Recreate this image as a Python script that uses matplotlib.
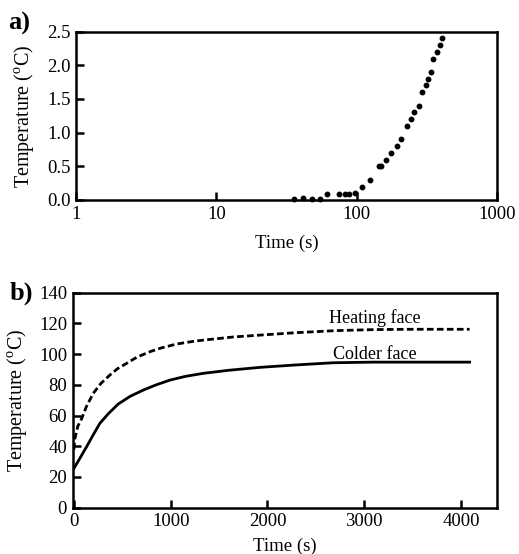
import matplotlib
matplotlib.use("Agg")
import matplotlib.pyplot as plt
from matplotlib.ticker import FixedLocator, NullLocator

plt.rcParams['font.family'] = ['Liberation Serif', 'DejaVu Serif']
plt.rcParams['mathtext.fontset'] = 'custom'
plt.rcParams['mathtext.rm'] = 'Liberation Serif'
plt.rcParams['font.size'] = 13.5

# panel a: early heating, log time axis
time_a = [35.8, 41.5, 47.9, 55.2, 62, 75.4, 83.2, 88.8, 98, 110, 124.7,
          143.8, 149.5, 161.6, 175.3, 193.5, 207.8, 229, 243.6, 258.7,
          279.5, 293.6, 311.9, 325.8, 338.6, 354, 376, 394.6, 410]
temp_a = [0.01, 0.025, 0.02, 0.01, 0.09, 0.09, 0.09, 0.09, 0.1, 0.2, 0.3,
          0.5, 0.5, 0.6, 0.7, 0.8, 0.9, 1.1, 1.2, 1.3,
          1.4, 1.6, 1.7, 1.8, 1.9, 2.1, 2.2, 2.3, 2.4]

# panel b: face temperatures
time_hot = [0, 10, 40, 80, 130, 200, 280, 372, 450, 545, 650, 786, 900,
            1062, 1250, 1406, 1650, 1924, 2300, 2700, 3100, 3500, 4090]
temp_hot = [38, 45, 53, 58, 66, 74.5, 81, 86.4, 90.5, 94, 98, 101.6, 104,
            106.6, 108.5, 109.6, 111.2, 112.4, 114, 115.3, 116, 116.2, 116.2]
time_cold = [0, 60, 131, 200, 269, 360, 458, 580, 717, 850, 993, 1150,
             1337, 1600, 1924, 2300, 2682, 3100, 4090]
temp_cold = [25.6, 32, 39.7, 47.5, 55, 61.5, 67.5, 72.5, 76.6, 80, 83.1,
             85.5, 87.5, 89.5, 91.4, 93, 94.4, 94.8, 94.8]

ylab = 'Temperature ($^{\\mathrm{o}}$C)'

fig = plt.figure(figsize=(5.19, 5.54), dpi=100)
ax1 = fig.add_axes([0.147, 0.639, 0.810, 0.304])
ax2 = fig.add_axes([0.140, 0.0836, 0.817, 0.388])

for ax in (ax1, ax2):
    for sp in ax.spines.values():
        sp.set_linewidth(1.8)
    ax.tick_params(direction='in', length=6, width=1.8, pad=4)

ax1.plot(time_a, temp_a, 'o', color='black', markersize=3.2, clip_on=False)
ax1.set_xscale('log')
ax1.set_xlim(1, 1000)
ax1.set_ylim(0, 2.5)
ax1.xaxis.set_major_locator(FixedLocator([1, 10, 100, 1000]))
ax1.xaxis.set_minor_locator(NullLocator())
ax1.set_xticklabels(['1', '10', '100', '1000'])
ax1.set_yticks([0, 0.5, 1.0, 1.5, 2.0, 2.5])
ax1.set_yticklabels(['0.0', '0.5', '1.0', '1.5', '2.0', '2.5'])
ax1.set_xlabel('Time (s)')
ax1.set_ylabel(ylab, fontsize=14.5)
ax1.xaxis.set_label_coords(0.5, -0.208)
ax1.yaxis.set_label_coords(-0.096, 0.5)

ax2.plot(time_hot, temp_hot, color='black', lw=2.0, dashes=(2.4, 1.2))
ax2.plot(time_cold, temp_cold, color='black', lw=2.0)
ax2.set_xlim(-13, 4370)
ax2.set_ylim(0, 140)
ax2.set_xticks([0, 1000, 2000, 3000, 4000])
ax2.set_yticks(range(0, 141, 20))
ax2.set_xlabel('Time (s)')
ax2.set_ylabel(ylab, fontsize=14.5)
ax2.xaxis.set_label_coords(0.5, -0.141)
ax2.yaxis.set_label_coords(-0.103, 0.5)
ax2.text(3110, 123.5, 'Heating face', ha='center', va='center', fontsize=13)
ax2.text(3110, 100, 'Colder face', ha='center', va='center', fontsize=13)

fig.text(0.0154, 0.958, 'a)', fontsize=19, fontweight='bold', va='center')
fig.text(0.019, 0.471, 'b)', fontsize=19, fontweight='bold', va='center')

fig.savefig('out.png', dpi=100)
